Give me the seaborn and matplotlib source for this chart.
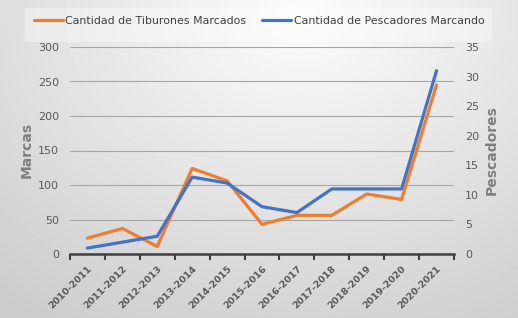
import numpy as np
import pandas as pd
import matplotlib
matplotlib.use("Agg")
import matplotlib.pyplot as plt
import seaborn as sns
from matplotlib.ticker import FixedLocator

temporadas = ["2010-2011", "2011-2012", "2012-2013", "2013-2014", "2014-2015", "2015-2016",
              "2016-2017", "2017-2018", "2018-2019", "2019-2020", "2020-2021"]
tiburones = [23, 37, 11, 124, 106, 43, 56, 56, 87, 79, 245]
pescadores = [1, 2, 3, 13, 12, 8, 7, 11, 11, 11, 31]

sns.set_theme(style="white")
plt.rcParams['font.family'] = ['DejaVu Sans']

c_or = "#ED7D31"
c_bl = "#4472C4"
txt = "#595959"

fig = plt.figure(figsize=(5.18, 3.18), dpi=100)

# gradient background
bg = fig.add_axes([0, 0, 1, 1], zorder=-10)
yy, xx = np.mgrid[0:318, 0:518]
r = np.sqrt(((xx - 300) / 420.0) ** 2 + ((yy - 10) / 330.0) ** 2)
val = np.clip(0.99 - 0.17 * r, 0.80, 0.99)
bg.imshow(val, cmap="gray", vmin=0, vmax=1, aspect="auto", extent=[0, 1, 0, 1])
bg.axis("off")
fig.patches.append(plt.Rectangle((25 / 518, 1 - 42 / 318), 467 / 518, 34 / 318,
                                 transform=fig.transFigure, facecolor="white", alpha=0.35,
                                 edgecolor="none", zorder=-5))

ax = fig.add_axes([70 / 518, 1 - 254 / 318, 384 / 518, 207 / 318])
ax.patch.set_alpha(0)
df = pd.DataFrame({"Temporada": temporadas, "Marcas": tiburones, "Pescadores": pescadores})
x = np.arange(len(temporadas))
sns.lineplot(x=x, y=df["Marcas"], ax=ax, color=c_or, lw=2.3, label="Cantidad de Tiburones Marcados", legend=False)
ax.set_ylim(0, 300)
ax.set_xlim(-0.5, len(temporadas) - 0.5)
ax.set_yticks(np.arange(0, 301, 50))
ax.grid(axis="y", color="#a6a6a6", lw=0.8)
ax.set_axisbelow(True)
for s in ["top", "right", "left"]:
    ax.spines[s].set_visible(False)
ax.spines["bottom"].set_color("#404040")
ax.spines["bottom"].set_linewidth(1.8)
ax.set_xticks(x)
ax.set_xticklabels(temporadas, rotation=45, ha="right", rotation_mode="anchor",
                   fontsize=6.8, color=txt, fontweight="bold")
ax.xaxis.set_minor_locator(FixedLocator(np.arange(-0.5, len(temporadas), 1)))
ax.tick_params(axis="x", which="major", length=0, pad=7)
ax.tick_params(axis="x", which="minor", length=4, width=1.5, color="#404040", direction="out", bottom=True)
ax.tick_params(axis="y", length=0, labelsize=8, labelcolor=txt, pad=8)
ax.set_xlabel("")
ax.set_ylabel("")
fig.text(27 / 518, 1 - 150 / 318, "Marcas", rotation=90, ha="center", va="center",
         fontsize=10, color="#7f7f7f", fontweight="bold")

ax2 = ax.twinx()
sns.lineplot(x=x, y=df["Pescadores"], ax=ax2, color=c_bl, lw=2.3, label="Cantidad de Pescadores Marcando", legend=False)
ax2.set_ylim(0, 35)
ax2.set_yticks(np.arange(0, 36, 5))
ax2.grid(False)
for s in ["top", "right", "left", "bottom"]:
    ax2.spines[s].set_visible(False)
ax2.tick_params(axis="y", length=0, labelsize=8, labelcolor=txt, pad=8)
ax2.set_ylabel("")
fig.text(492 / 518, 1 - 150 / 318, "Pescadores", rotation=90, ha="center", va="center",
         fontsize=10, color="#7f7f7f", fontweight="bold")
ax2.set_xlim(-0.5, len(temporadas) - 0.5)

h1, l1 = ax.get_legend_handles_labels()
h2, l2 = ax2.get_legend_handles_labels()
leg = fig.legend(h1 + h2, l1 + l2, loc="center", bbox_to_anchor=(0.5, 1 - 21 / 318), ncol=2,
                 frameon=False, fontsize=7.9, handlelength=2.7, handletextpad=0.2, columnspacing=1.4,
                 labelcolor="#404040")

fig.savefig("out.png", dpi=100)
